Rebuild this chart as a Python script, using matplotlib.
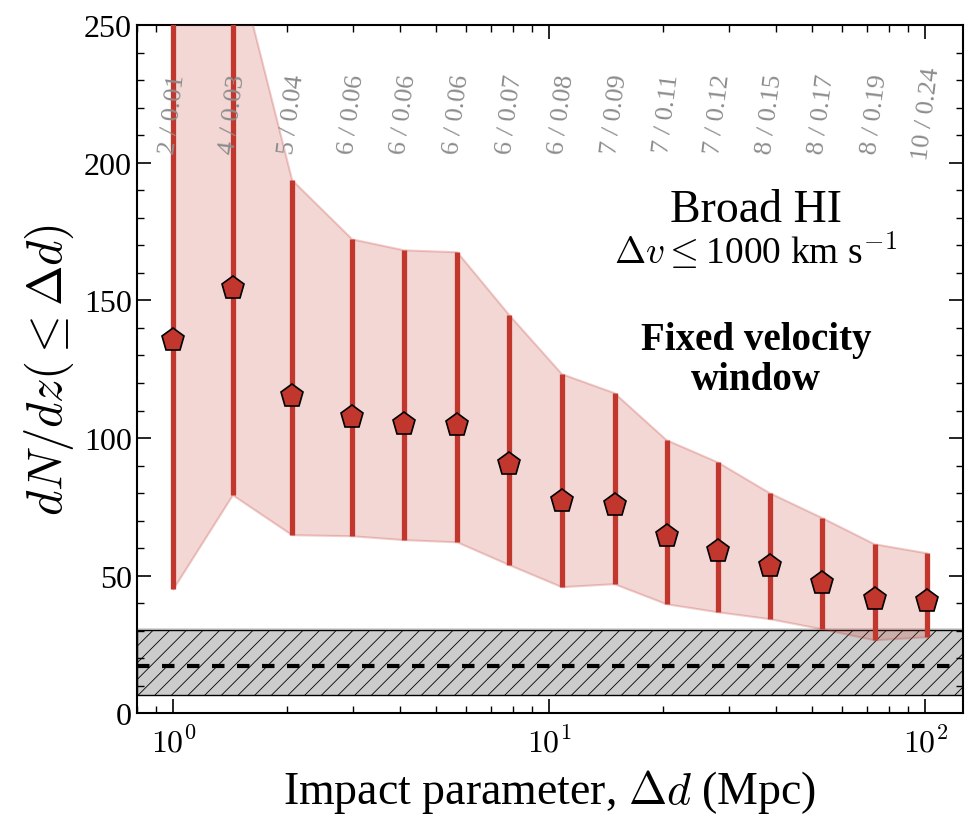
import matplotlib
matplotlib.use("Agg")
import matplotlib.pyplot as plt
from matplotlib.ticker import FixedLocator, FuncFormatter, MultipleLocator
import numpy as np

plt.rcParams["font.family"] = ["Liberation Serif", "DejaVu Serif"]
plt.rcParams["mathtext.fontset"] = "cm"
plt.rcParams["hatch.linewidth"] = 0.6

# Values.
impact = [1.0, 1.44, 2.07, 2.99, 4.11, 5.69, 7.83, 10.8, 14.9, 20.5, 28.0, 38.5, 53.2, 73.2, 101.0]
dndz = [135.5, 154.4, 115.2, 107.6, 105.0, 104.7, 90.5, 77.0, 75.6, 64.3, 58.9, 53.4, 47.2, 41.4, 40.7]
dndz_hi = [300.0, 279.0, 193.7, 172.2, 168.2, 167.5, 144.6, 123.2, 116.3, 99.2, 91.2, 80.0, 70.9, 61.4, 58.1]
dndz_lo = [45.0, 79.2, 64.7, 64.3, 62.9, 62.1, 53.8, 45.8, 46.9, 39.6, 36.7, 34.2, 30.5, 26.5, 27.6]
pair_labels = ["2 / 0.01", "4 / 0.03", "5 / 0.04", "6 / 0.06", "6 / 0.06", "6 / 0.06", "6 / 0.07",
               "6 / 0.08", "7 / 0.09", "7 / 0.11", "7 / 0.12", "8 / 0.15", "8 / 0.17", "8 / 0.19",
               "10 / 0.24"]

# Random (background) expectation band.
random_mean = 17.1
random_lo = 6.5
random_hi = 30.2
random_outer = 31.0

red = "#c2372d"

fig = plt.figure(figsize=(9.71, 8.2), dpi=100)
ax = fig.add_axes([0.141, 0.129, 0.851, 0.839])

# Background band.
ax.axhspan(random_lo, random_outer, facecolor="#d9d9d9", edgecolor="none", zorder=1)
ax.axhspan(random_lo, random_hi, facecolor="#cccccc", edgecolor="black", hatch="//",
           linewidth=1.0, zorder=1)
ax.axhline(random_mean, color="black", ls=(0, (3, 3)), lw=3, zorder=2)

# Shaded error envelope.
ax.fill_between(impact, dndz_lo, dndz_hi, facecolor=red, alpha=0.2, edgecolor="none", zorder=3)
ax.plot(impact, dndz_hi, color=red, alpha=0.25, lw=1.5, zorder=3)
ax.plot(impact, dndz_lo, color=red, alpha=0.25, lw=1.5, zorder=3)

# Error bars and points.
ax.vlines(impact, dndz_lo, dndz_hi, color=red, lw=3.8, zorder=4)
ax.plot(impact, dndz, ls="none", marker="p", ms=17, mfc=red, mec="black", mew=1.2, zorder=5)

for x, lab in zip(impact, pair_labels):
    ax.text(x, 218, lab, rotation=83, ha="center", va="center", color="#8c8c8c", fontsize=19,
            zorder=6)

tx = 0.749
ax.text(tx, 0.716, "Broad HI", transform=ax.transAxes, ha="center", va="baseline", fontsize=33)
ax.text(tx, 0.655, r"$\Delta v \leq$1000 km s$^{-1}$", transform=ax.transAxes, ha="center",
        va="baseline", fontsize=27)
ax.text(tx, 0.529, "Fixed velocity", transform=ax.transAxes, ha="center",
        va="baseline", fontsize=28, fontweight="bold")
ax.text(tx, 0.471, "window", transform=ax.transAxes, ha="center",
        va="baseline", fontsize=28, fontweight="bold")

ax.set_xscale("log")
ax.set_xlim(0.8, 126)
ax.set_ylim(0, 250)

ax.xaxis.set_major_locator(FixedLocator([1, 10, 100]))
ax.xaxis.set_major_formatter(FuncFormatter(lambda v, p: r"$10^{%d}$" % round(np.log10(v))))
ax.yaxis.set_major_locator(MultipleLocator(50))
ax.yaxis.set_minor_locator(MultipleLocator(10))

ax.tick_params(which="both", direction="in", top=True, right=True, labelsize=23)
ax.tick_params(which="major", length=10, width=1.2)
ax.tick_params(which="minor", length=5, width=1)
ax.tick_params(axis="x", pad=10)
for s in ax.spines.values():
    s.set_linewidth(1.5)

ax.set_xlabel(r"Impact parameter, $\Delta d$ (Mpc)", fontsize=33, labelpad=6)
ax.set_ylabel(r"$dN/dz(\leq\Delta d)$", fontsize=35, labelpad=6)

fig.savefig("out.png", dpi=100)
